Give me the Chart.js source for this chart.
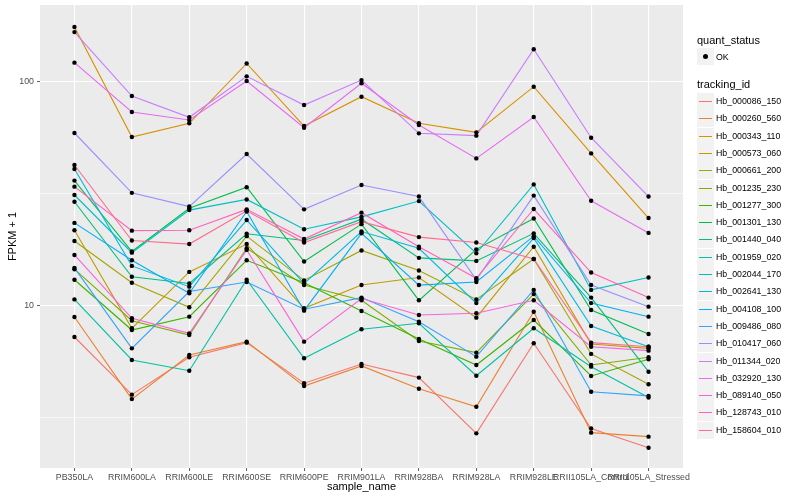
<!DOCTYPE html>
<html>
<head>
<meta charset="utf-8">
<script src="https://cdn.jsdelivr.net/npm/chart.js@4.4.1/dist/chart.umd.min.js"></script>
<style>
  body { margin: 0; background: #fff; font-family: "Liberation Sans", Arial, sans-serif; }
  #wrap { position: relative; width: 800px; height: 500px; }
  #legend { position: absolute; left: 0; top: 0; }
  .ltitle { position: absolute; font-size: 11px; color: #000; white-space: nowrap; line-height: 13px; }
  .lkey { position: absolute; width: 17px; height: 17px; background: #f2f2f2; }
  .lline { position: absolute; left: 2px; width: 13px; top: 7.5px; height: 1.6px; }
  .ldot { position: absolute; left: 6px; top: 6px; width: 5px; height: 5px; border-radius: 50%; background: #000; }
  .llabel { position: absolute; font-size: 8.8px; color: #000; white-space: nowrap; line-height: 10px; }
</style>
</head>
<body>
<div id="wrap">
  <canvas id="chart" width="800" height="500"></canvas>
  <div id="legend"></div>
</div>
<script>
// -------------------------------
// DATA (FPKM + 1)
// -------------------------------
const samples = ["PB350LA", "RRIM600LA", "RRIM600LE", "RRIM600SE", "RRIM600PE", "RRIM901LA",
  "RRIM928BA", "RRIM928LA", "RRIM928LE", "RRII105LA_Control", "RRII105LA_Stressed"];

const trackingIds = ["Hb_000086_150", "Hb_000260_560", "Hb_000343_110", "Hb_000573_060",
  "Hb_000661_200", "Hb_001235_230", "Hb_001277_300", "Hb_001301_130", "Hb_001440_040",
  "Hb_001959_020", "Hb_002044_170", "Hb_002641_130", "Hb_004108_100", "Hb_009486_080",
  "Hb_010417_060", "Hb_011344_020", "Hb_032920_130", "Hb_089140_050", "Hb_128743_010",
  "Hb_158604_010"];

const hb_000086_150 = [7.27, 4.02, 5.90, 6.86, 4.52, 5.51, 4.79, 2.70, 6.82, 2.84, 2.33];
const hb_000260_560 = [8.93, 3.84, 6.04, 6.93, 4.39, 5.40, 4.27, 3.55, 9.43, 2.72, 2.61];
const hb_000343_110 = [176, 56.8, 65.4, 121, 63.6, 86.0, 65.4, 59.6, 95.3, 48.0, 24.7];
const hb_000573_060 = [21.8, 7.95, 14.2, 18.9, 9.77, 12.4, 13.4, 8.87, 18.4, 6.77, 6.47];
const hb_000661_200 = [19.5, 12.7, 9.87, 20.5, 13.0, 17.7, 14.4, 10.7, 16.2, 6.11, 4.47];
const hb_001235_230 = [14.6, 8.60, 7.42, 18.1, 12.4, 10.6, 6.98, 6.19, 11.3, 5.45, 5.90];
const hb_001277_300 = [13.1, 7.81, 8.96, 16.0, 12.7, 9.50, 7.12, 5.45, 8.66, 4.87, 5.78];
const hb_001301_130 = [36.3, 17.5, 27.3, 33.9, 15.8, 23.2, 10.6, 17.9, 24.6, 9.60, 7.50];
const hb_001440_040 = [29.2, 13.5, 12.6, 21.0, 19.6, 24.4, 16.4, 15.9, 21.1, 10.9, 5.09];
const hb_001959_020 = [10.7, 5.74, 5.14, 13.1, 5.84, 7.87, 8.37, 4.88, 7.95, 5.36, 3.90];
const hb_002044_170 = [31.3, 17.3, 26.8, 29.9, 22.0, 25.0, 29.4, 17.2, 34.9, 11.8, 13.4];
const hb_002641_130 = [40.9, 15.1, 12.2, 24.2, 12.6, 21.5, 18.1, 10.3, 20.1, 8.14, 6.58];
const hb_004108_100 = [23.5, 16.0, 11.4, 26.4, 9.53, 21.1, 12.4, 12.8, 20.5, 10.3, 8.96];
const hb_009486_080 = [14.8, 6.47, 11.6, 12.8, 9.67, 10.9, 8.51, 5.94, 11.8, 4.14, 3.97];
const hb_010417_060 = [59.2, 32.0, 27.8, 47.7, 27.0, 34.7, 30.8, 13.1, 31.1, 12.4, 9.93];
const hb_011344_020 = [167, 86.6, 69.6, 106, 78.9, 102, 59.0, 57.6, 140, 56.4, 30.8];
const hb_032920_130 = [122, 73.5, 67.7, 101, 62.5, 98.7, 64.3, 45.6, 69.8, 29.5, 21.2];
const hb_089140_050 = [16.9, 8.81, 7.55, 17.8, 6.93, 10.8, 9.12, 9.28, 10.6, 6.58, 6.32];
const hb_128743_010 = [34.1, 21.7, 21.8, 27.0, 19.9, 26.1, 18.4, 13.3, 27.1, 14.1, 10.9];
const hb_158604_010 = [42.6, 19.6, 18.9, 26.6, 19.2, 23.8, 20.3, 19.2, 16.2, 6.86, 6.58];

const seriesValues = [hb_000086_150, hb_000260_560, hb_000343_110, hb_000573_060, hb_000661_200,
  hb_001235_230, hb_001277_300, hb_001301_130, hb_001440_040, hb_001959_020, hb_002044_170,
  hb_002641_130, hb_004108_100, hb_009486_080, hb_010417_060, hb_011344_020, hb_032920_130,
  hb_089140_050, hb_128743_010, hb_158604_010];

// y breaks: labelled majors and the unlabelled minors in between
const yMajorTicks = [10, 100];
const yMinorTicks = [3.1623, 31.623];

// ggplot hue palette, 20 levels
const palette = ["#F8766D", "#EA8331", "#D89000", "#C09B00", "#A3A500", "#7CAE00", "#39B600",
  "#00BB4E", "#00BF7D", "#00C1A3", "#00BFC4", "#00BAE0", "#00B0F6", "#35A2FF", "#9590FF",
  "#C77CFF", "#E76BF3", "#FA62DB", "#FF62BC", "#FF6C91"];

// -------------------------------
// CHART
// -------------------------------
const FONT = '"Liberation Sans", Arial, sans-serif';
Chart.defaults.font.family = FONT;

const isMajor = v => yMajorTicks.some(m => Math.abs(m - v) < 1e-6);

// panel background
const panelBg = {
  id: "panelBg",
  beforeDraw(chart) {
    const { ctx, chartArea: a } = chart;
    ctx.save();
    ctx.fillStyle = "#EBEBEB";
    ctx.fillRect(a.left, a.top, a.right - a.left, a.bottom - a.top);
    ctx.restore();
  }
};

// fixed axis boxes, no extra label overhang padding
function fixBox(s, w, h) {
  if (w != null) s.width = w;
  if (h != null) s.height = h;
  s.paddingTop = 0;
  s.paddingBottom = 0;
  s.paddingLeft = 0;
  s.paddingRight = 0;
}

const lineSets = trackingIds.map((id, i) => ({
  label: id,
  data: seriesValues[i].map((v, j) => ({ x: j, y: v })),
  borderColor: palette[i],
  borderWidth: 1.1,
  pointRadius: 0,
  tension: 0,
  fill: false,
  order: trackingIds.length - i
}));

// points on top of every line (quant_status = OK)
const pointSet = {
  label: "OK",
  data: seriesValues.flatMap(vals => vals.map((v, j) => ({ x: j, y: v }))),
  showLine: false,
  pointRadius: 2.2,
  pointBackgroundColor: "#000",
  pointBorderWidth: 0,
  order: -1
};

new Chart(document.getElementById("chart"), {
  type: "line",
  data: { datasets: [...lineSets, pointSet] },
  plugins: [panelBg],
  options: {
    responsive: false,
    animation: false,
    layout: { padding: { left: 0, top: 5, right: 117, bottom: 0 } },
    plugins: { legend: { display: false }, tooltip: { enabled: false } },
    scales: {
      x: {
        type: "linear",
        bounds: "data",
        min: -0.6,
        max: 10.6,
        afterBuildTicks: s => { s.ticks = samples.map((_, i) => ({ value: i })); },
        afterFit: s => fixBox(s, null, 32),
        ticks: {
          callback: v => samples[v],
          autoSkip: false,
          maxRotation: 0,
          minRotation: 0,
          color: "#4D4D4D",
          font: { size: 8.8 },
          padding: 1
        },
        grid: { color: "#FFFFFF", lineWidth: 1.1, tickLength: 3, tickColor: "#333333", tickWidth: 0.8 },
        border: { display: false },
        title: { display: true, text: "sample_name", color: "#000", font: { size: 11 }, padding: { top: 0, bottom: 6 } }
      },
      y: {
        type: "logarithmic",
        bounds: "data",
        min: 1.891,
        max: 220.7,
        afterBuildTicks: s => {
          s.ticks = [...yMinorTicks, ...yMajorTicks].sort((a, b) => a - b).map(v => ({ value: v }));
        },
        afterFit: s => fixBox(s, 40, null),
        ticks: {
          callback: v => (isMajor(v) ? String(Math.round(v)) : ""),
          color: "#4D4D4D",
          font: { size: 8.8 },
          padding: 3
        },
        grid: {
          color: "#FFFFFF",
          lineWidth: c => (isMajor(c.tick.value) ? 1.1 : 0.55),
          tickLength: 3,
          tickColor: c => (isMajor(c.tick.value) ? "#333333" : "rgba(0,0,0,0)"),
          tickWidth: 0.8
        },
        border: { display: false },
        title: { display: true, text: "FPKM + 1", color: "#000", font: { size: 11 }, padding: { top: 6, bottom: 0 } }
      }
    }
  }
});

// -------------------------------
// LEGEND (html, right side)
// -------------------------------
function el(cls, css, text) {
  const d = document.createElement("div");
  d.className = cls;
  Object.assign(d.style, css);
  if (text) d.textContent = text;
  return d;
}

const legend = document.getElementById("legend");
legend.appendChild(el("ltitle", { left: "697px", top: "34px" }, "quant_status"));
const okKey = el("lkey", { left: "697px", top: "48px" });
okKey.appendChild(el("ldot", {}));
legend.appendChild(okKey);
legend.appendChild(el("llabel", { left: "716px", top: "52px" }, "OK"));

legend.appendChild(el("ltitle", { left: "697px", top: "78px" }, "tracking_id"));
trackingIds.forEach((id, i) => {
  const cy = Math.round(101 + i * 17.3);
  const key = el("lkey", { left: "697px", top: (cy - 8) + "px" });
  key.appendChild(el("lline", { background: palette[i] }));
  legend.appendChild(key);
  legend.appendChild(el("llabel", { left: "716px", top: (cy - 5) + "px" }, id));
});
</script>
</body>
</html>
